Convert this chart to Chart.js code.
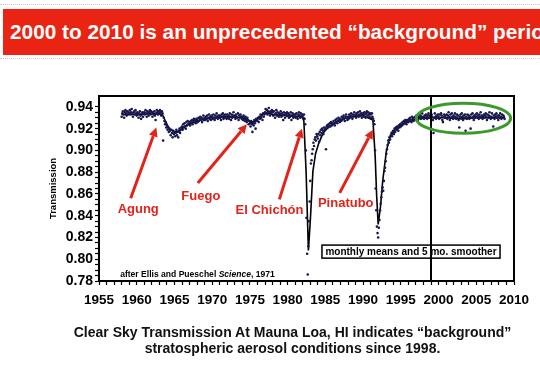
<!DOCTYPE html>
<html>
<head>
<meta charset="utf-8">
<script src="https://cdn.jsdelivr.net/npm/chart.js@4"></script>
<style>
  html, body { margin: 0; padding: 0; background: #fff; }
  #wrap { position: relative; width: 540px; height: 365px; overflow: hidden; font-family: "Liberation Sans", Arial, sans-serif; }
  #banner { position: absolute; left: 3px; top: 9px; width: 537px; height: 46px; background: #ea2412; color: #fff;
            font-weight: bold; font-size: 20.8px; line-height: 46px; padding-left: 7px; white-space: nowrap; box-sizing: border-box; }
  .dots { position: absolute; left: 0; width: 540px; border-top: 1px dotted #c8c8c8; }
  #caption { position: absolute; left: 0; width: 585px; top: 324px; text-align: center; font-weight: bold; font-size: 14px; line-height: 16px; color: #111; }
  canvas { position: absolute; left: 0; top: 0; }
</style>
</head>
<body>
<div id="wrap">
  <div class="dots" style="top:4px"></div>
  <div id="banner">2000 to 2010 is an unprecedented “background” period</div>
  <div class="dots" style="top:58px"></div>
  <canvas id="chart" width="540" height="365"></canvas>
  <div id="caption">Clear Sky Transmission At Mauna Loa, HI indicates “background”<br>stratospheric aerosol conditions since 1998.</div>
</div>
<script>
// monthly mean transmission (x1000), Jan 1958 onwards
const startYear = 1958;
const monthlyMeans = [
  931,934,936,933,930,935,937,934,932,936,933,935, // 1958
  934,937,933,935,938,934,931,935,936,933,937,934,
  932,935,933,930,934,936,932,929,933,935,931,934, // 1960
  935,933,937,934,931,936,934,932,935,937,933,936,
  934,931,935,933,936,932,928,934,937,935,933,936,
  934,937,935,932,936,934,909,930,927,924,926,921, // Agung
  923,919,921,917,920,918,914,919,916,912,918,915,
  917,913,916,919,914,917,912,918,920,916,919,921, // 1965
  922,919,924,921,925,922,920,926,923,927,924,925,
  926,923,927,925,928,924,927,929,926,928,925,929,
  928,926,930,927,929,931,928,930,926,929,932,928,
  930,928,931,929,932,927,930,933,929,931,928,932,
  931,929,933,930,928,932,930,934,931,929,932,930, // 1970
  932,930,928,933,931,934,929,932,930,933,931,929,
  933,930,932,929,934,931,928,933,930,932,935,931,
  932,929,933,931,930,934,928,932,930,933,931,929,
  931,928,932,930,927,931,929,926,930,928,924,927, // Fuego
  925,922,927,924,917,926,923,928,925,920,929,927, // 1975
  928,930,926,931,929,933,930,932,928,934,931,933,
  935,938,934,937,933,936,939,935,932,936,934,937,
  935,932,936,933,930,934,937,932,935,933,931,934,
  933,936,931,934,932,928,935,933,930,934,932,935,
  932,934,930,933,931,935,928,932,934,930,933,931, // 1980
  933,930,934,931,929,933,935,932,930,934,931,933,
  932,930,933,929,924,900,838,805,786,812,835,853, // El Chichon
  872,888,891,897,901,907,904,910,912,909,915,913,
  911,915,908,917,914,919,916,920,918,915,921,919,
  920,901,922,923,921,924,922,925,922,926,923,925, // 1985
  924,927,925,923,928,926,929,925,927,930,928,926,
  929,927,931,928,930,932,929,927,931,933,930,928,
  931,929,933,930,932,934,931,929,933,931,935,932,
  933,930,934,932,935,931,933,936,932,934,930,933,
  934,931,935,933,930,934,936,932,935,933,931,934, // 1990
  933,930,934,931,929,927,924,900,865,845,830,824, // Pinatubo
  820,829,836,845,851,857,862,866,863,872,881,884,
  890,897,901,905,909,907,912,910,914,916,913,917,
  918,915,920,917,921,919,922,920,918,923,921,924,
  922,925,923,926,924,927,925,928,926,924,928,927, // 1995
  926,929,927,930,928,926,931,929,927,930,928,931,
  929,932,930,928,931,933,930,932,929,931,934,930,
  931,929,932,930,933,931,929,932,934,930,932,931,
  930,933,931,928,916,930,934,931,929,932,930,933,
  931,929,933,930,934,932,928,926,931,933,930,932, // 2000
  930,933,929,932,935,931,928,933,930,934,931,929,
  932,930,934,931,929,933,930,932,928,921,931,933,
  930,934,931,928,932,930,933,918,931,929,933,930,
  932,929,931,920,933,930,934,931,928,932,930,933,
  931,934,930,932,929,933,931,935,930,932,929,931, // 2005
  933,930,932,934,931,928,933,930,932,935,931,929,
  931,934,930,922,932,929,933,931,934,930,932,928,
  932,930,934,931,929,933,930,932,931,929              // 2008
];

// 5-month smoother
const smoothYears  = [1958.0, 1960.0, 1962.0, 1963.4, 1963.8, 1964.3, 1965.0, 1965.6, 1966.3, 1967.2, 1968.5,
                      1970.0, 1972.0, 1974.0, 1974.8, 1975.4, 1976.2, 1977.0, 1978.0, 1980.0, 1981.9,
                      1982.15, 1982.45, 1982.75, 1983.0, 1983.35, 1983.7, 1984.1, 1984.7, 1985.5, 1986.5,
                      1988.0, 1990.0, 1991.3, 1991.6, 1991.8, 1992.0, 1992.3, 1992.6, 1993.1, 1993.5,
                      1994.2, 1995.5, 1997.0, 1999.0, 2001.0, 2003.0, 2005.0, 2007.0, 2008.8];
const smoothValues = [0.933, 0.933, 0.934, 0.933, 0.927, 0.920, 0.917, 0.917, 0.922, 0.925, 0.928,
                      0.930, 0.931, 0.930, 0.927, 0.925, 0.930, 0.935, 0.933, 0.932, 0.931,
                      0.927, 0.880, 0.808, 0.835, 0.881, 0.897, 0.906, 0.916, 0.922, 0.926,
                      0.931, 0.932, 0.928, 0.895, 0.858, 0.832, 0.848, 0.872, 0.900, 0.911,
                      0.919, 0.925, 0.929, 0.930, 0.930, 0.929, 0.930, 0.930, 0.930];

const xTickLabels = [1955, 1960, 1965, 1970, 1975, 1980, 1985, 1990, 1995, 2000, 2005, 2010];
const yTickLabels = [0.78, 0.80, 0.82, 0.84, 0.86, 0.88, 0.90, 0.92, 0.94];

const volcanoes = [
  { name: 'Agung',      label: [1960.2, 0.846], from: [1959.2, 0.856], to: [1962.6, 0.921] },
  { name: 'Fuego',      label: [1968.5, 0.858], from: [1968.1, 0.870], to: [1974.6, 0.924] },
  { name: 'El Chichón', label: [1977.6, 0.845], from: [1978.9, 0.855], to: [1981.9, 0.920] },
  { name: 'Pinatubo',   label: [1987.7, 0.851], from: [1986.9, 0.861], to: [1991.3, 0.919] }
];

const monthlyPoints = monthlyMeans.map((v, i) => ({ x: startYear + i / 12, y: v / 1000 }));
const smoothPoints = smoothYears.map((yr, i) => ({ x: yr, y: smoothValues[i] }));

const FONT = '"Liberation Sans", Arial, sans-serif';

function arrow(ctx, x1, y1, x2, y2) {
  const a = Math.atan2(y2 - y1, x2 - x1);
  const head = 9, half = 4.5;
  const bx = x2 - head * Math.cos(a), by = y2 - head * Math.sin(a);
  ctx.beginPath();
  ctx.moveTo(x1, y1);
  ctx.lineTo(bx, by);
  ctx.stroke();
  ctx.beginPath();
  ctx.moveTo(x2, y2);
  ctx.lineTo(bx + half * Math.sin(a), by - half * Math.cos(a));
  ctx.lineTo(bx - half * Math.sin(a), by + half * Math.cos(a));
  ctx.closePath();
  ctx.fill();
}

const extras = {
  id: 'extras',
  afterDraw(chart) {
    const { ctx, chartArea: ca, scales: { x, y } } = chart;
    const px = v => x.getPixelForValue(v), py = v => y.getPixelForValue(v);
    ctx.save();

    // frame top/right
    ctx.strokeStyle = '#000';
    ctx.lineWidth = 2;
    ctx.beginPath();
    ctx.moveTo(ca.left, ca.top);
    ctx.lineTo(ca.right, ca.top);
    ctx.lineTo(ca.right, ca.bottom);
    ctx.stroke();

    // legend box
    const bx1 = px(1984.55), bx2 = px(2008.15), by1 = py(0.813), by2 = py(0.801);
    ctx.lineWidth = 1.5;
    ctx.strokeRect(bx1, by1, bx2 - bx1, by2 - by1);
    ctx.fillStyle = '#000';
    ctx.font = 'bold 10px ' + FONT;
    ctx.textAlign = 'center';
    ctx.textBaseline = 'middle';
    ctx.fillText('monthly means and 5 mo. smoother', (bx1 + bx2) / 2, (by1 + by2) / 2 + 0.5);

    // 1999 divider
    ctx.lineWidth = 2;
    ctx.beginPath();
    ctx.moveTo(px(1999), ca.top);
    ctx.lineTo(px(1999), ca.bottom);
    ctx.stroke();

    // source note, squeezed to the narrow look of the original
    ctx.textAlign = 'left';
    const parts = [['bold ', 'after Ellis and Pueschel '], ['italic bold ', 'Science'], ['bold ', ', 1971']];
    let total = 0;
    parts.forEach(([st, t]) => { ctx.font = st + '9.5px ' + FONT; total += ctx.measureText(t).width; });
    const k = (px(1978.3) - px(1957.8)) / total;
    ctx.save();
    ctx.translate(px(1957.8), py(0.786));
    ctx.scale(k, 1);
    let tx = 0;
    parts.forEach(([st, t]) => {
      ctx.font = st + '9.5px ' + FONT;
      ctx.fillText(t, tx, 0);
      tx += ctx.measureText(t).width;
    });
    ctx.restore();

    // volcano labels and arrows
    ctx.fillStyle = '#e2231a';
    ctx.strokeStyle = '#e2231a';
    ctx.lineWidth = 3;
    ctx.font = 'bold 13px ' + FONT;
    ctx.textAlign = 'center';
    volcanoes.forEach(v => {
      ctx.fillText(v.name, px(v.label[0]), py(v.label[1]));
      arrow(ctx, px(v.from[0]), py(v.from[1]), px(v.to[0]), py(v.to[1]));
    });

    // green ellipse round the background period
    ctx.strokeStyle = '#3c9a2c';
    ctx.lineWidth = 3;
    const cx = px(2003.3), cy = py(0.9295);
    ctx.beginPath();
    ctx.ellipse(cx, cy, px(2003.3 + 6.25) - cx, cy - py(0.9295 + 0.0138), 0, 0, Math.PI * 2);
    ctx.stroke();

    ctx.restore();
  }
};

new Chart(document.getElementById('chart').getContext('2d'), {
  type: 'scatter',
  data: {
    datasets: [
      { label: 'monthly means', data: monthlyPoints, pointRadius: 1.3, pointBorderWidth: 0,
        pointBackgroundColor: '#18184e', order: 1 },
      { label: '5 mo. smoother', data: smoothPoints, showLine: true, borderColor: '#000', borderWidth: 1.6,
        pointRadius: 0, tension: 0, order: 2 }
    ]
  },
  options: {
    responsive: false,
    animation: false,
    layout: { padding: { left: 0, top: 96, right: 26, bottom: 0 } },
    plugins: { legend: { display: false }, tooltip: { enabled: false } },
    scales: {
      x: {
        type: 'linear', min: 1955, max: 2010,
        afterFit: s => { s.height = 84; },
        afterBuildTicks: s => {
          const t = [];
          for (let yr = 1955; yr <= 2010; yr++) t.push({ value: yr });
          s.ticks = t;
        },
        grid: { drawOnChartArea: false, color: '#000', tickLength: 4, tickWidth: 1.2 },
        border: { color: '#000', width: 2 },
        ticks: { autoSkip: false, maxRotation: 0, padding: 7, color: '#000',
                 font: { family: FONT, weight: 'bold', size: 13.5 },
                 callback: v => xTickLabels.includes(v) ? String(v) : '' }
      },
      y: {
        min: 0.78, max: 0.95,
        afterFit: s => { s.width = 99; },
        afterBuildTicks: s => {
          const t = [];
          for (let i = 0; i <= 32; i++) t.push({ value: Math.round((0.78 + i * 0.005) * 1000) / 1000 });
          s.ticks = t;
        },
        grid: { drawOnChartArea: false, color: '#000', tickLength: 4, tickWidth: 1.2 },
        border: { color: '#000', width: 2 },
        title: { display: true, text: 'Transmission', color: '#000', padding: { top: 48, bottom: 0 },
                 font: { family: FONT, weight: 'bold', size: 9.5 } },
        ticks: { autoSkip: false, padding: 2, color: '#000',
                 font: { family: FONT, weight: 'bold', size: 14 },
                 callback: v => {
                   const hit = yTickLabels.find(l => Math.abs(l - v) < 1e-6);
                   return hit === undefined ? '' : hit.toFixed(2);
                 } }
      }
    }
  },
  plugins: [extras]
});
</script>
</body>
</html>
